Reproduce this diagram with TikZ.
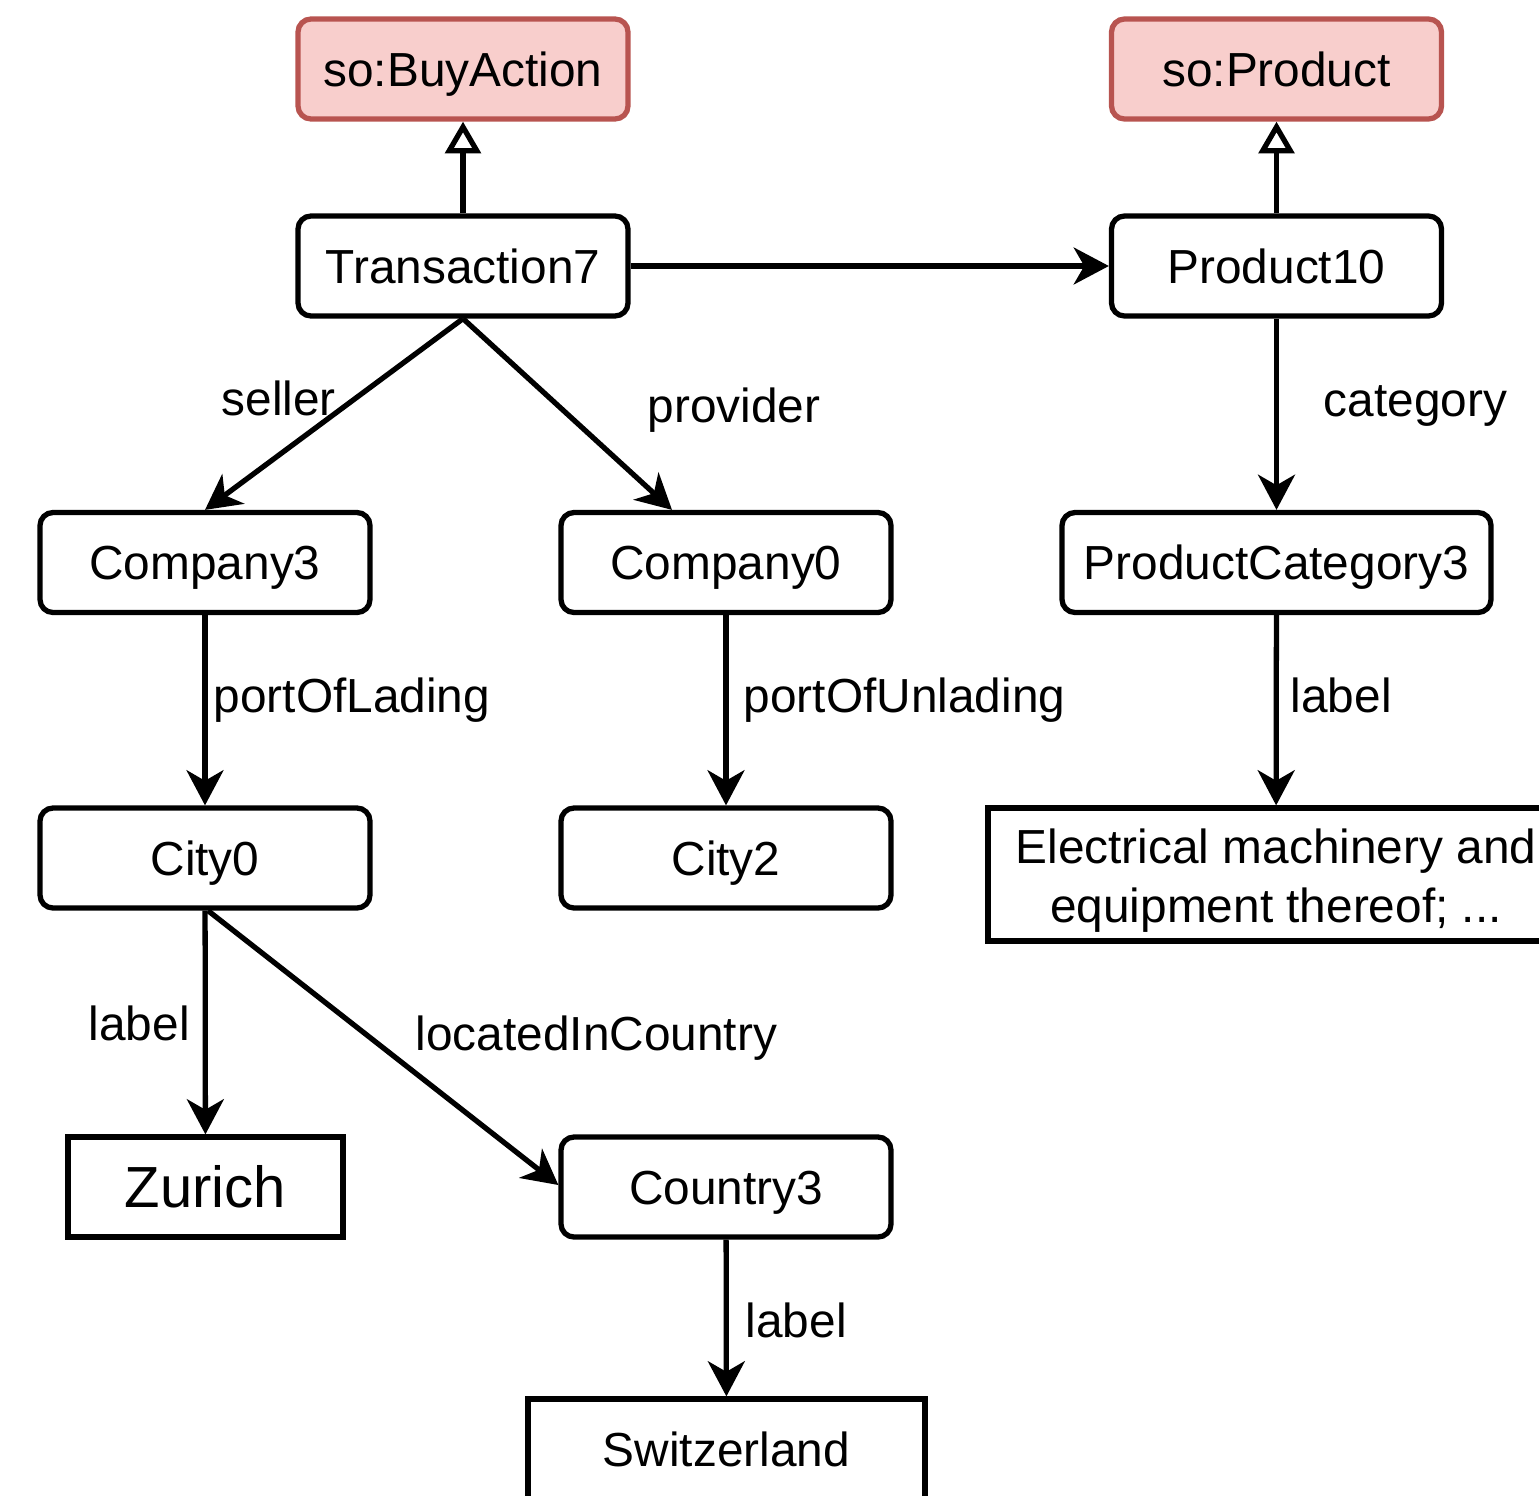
\documentclass[tikz,border=0pt]{standalone}
\usepackage{fontspec}
\setmainfont{Liberation Sans}
\usetikzlibrary{arrows.meta}
\definecolor{clsfill}{HTML}{F8CECC}
\definecolor{clsline}{HTML}{B85450}
\newcommand\nodefont{\fontsize{13.6}{17}\selectfont}
\newcommand\bigfont{\fontsize{16.5}{20}\selectfont}
\tikzset{
  frame/.style={draw, line width=1.5pt, minimum width=3.3cm,
    minimum height=1cm, inner sep=0pt, fill=white},
  box/.style={frame, font=\nodefont, text height=9.75pt, text depth=0pt},
  inst/.style={box, rounded corners=0.13cm},
  cls/.style={box, rounded corners=0.13cm, draw=clsline, fill=clsfill},
  lit/.style={box},
  arr/.style={line width=1.5pt, -{Stealth[length=10pt,width=10.5pt,inset=3pt]}},
  sub/.style={line width=1.5pt, -{Triangle[open,length=9pt,width=10pt,fill=white]}},
  lbl/.style={font=\nodefont, inner sep=0pt, anchor=base west}
}
\begin{document}
\begin{tikzpicture}
\useasboundingbox (0,0) rectangle (15.39,-14.95);
\clip (0,0) rectangle (15.39,-14.95);

% classes
\node[cls] (buy) at (4.63,-0.69) {so:BuyAction};
\node[cls] (prod) at (12.765,-0.69) {so:Product};

% instances
\node[inst] (t7) at (4.63,-2.66) {Transaction7};
\node[inst] (p10) at (12.765,-2.66) {Product10};
\node[inst] (c3) at (2.05,-5.625) {Company3};
\node[inst] (c0) at (7.26,-5.625) {Company0};
\node[inst, minimum width=4.29cm] (pc3) at (12.765,-5.625) {ProductCategory3};
\node[inst] (city0) at (2.05,-8.58) {City0};
\node[inst] (city2) at (7.26,-8.58) {City2};
\node[inst] (ctry) at (7.26,-11.87) {Country3};

% literals
\node[frame, minimum width=5.76cm, minimum height=1.33cm] (elec) at (12.76,-8.745) {};
\node[font=\nodefont, align=center, inner sep=0pt] (electext) at ([yshift=-0.06cm]elec.center)
  {Electrical machinery and\\equipment thereof; ...};
\node[lit, minimum width=2.75cm, font=\bigfont, text height=11.8pt] (zur) at (2.055,-11.87) {Zurich};
\node[lit, minimum width=3.97cm] (swi) at (7.265,-14.49) {Switzerland};

% type links
\draw[sub] (t7) -- (buy);
\draw[sub] (p10) -- (prod);

% property links
\draw[arr] (t7) -- (p10);
\draw[arr] (t7.south) -- (c3.north);
\draw[arr] (t7.south) -- ([xshift=-0.54cm]c0.north);
\draw[arr] (p10) -- (pc3);
\draw[arr] (c3) -- (city0);
\draw[arr] (c0) -- (city2);
\draw[arr] (pc3) -- (elec);
\draw[arr] (city0) -- (zur);
\draw[arr] ([xshift=0.03cm]city0.south) -- ([yshift=0.02cm]ctry.west);
\draw[arr] (ctry) -- (swi);

% edge labels
\node[lbl] (lseller) at (2.21,-4.15) {seller};
\node[lbl] (lprov) at (6.47,-4.22) {provider};
\node[lbl] (lcat) at (13.23,-4.16) {category};
\node[lbl] (llading) at (2.13,-7.12) {portOfLading};
\node[lbl] (lunlading) at (7.43,-7.12) {portOfUnlading};
\node[lbl] (llabpc) at (12.90,-7.12) {label};
\node[lbl] (llabcity) at (0.88,-10.40) {label};
\node[lbl] (lloc) at (4.15,-10.50) {locatedInCountry};
\node[lbl] (llabctry) at (7.45,-13.37) {label};
\end{tikzpicture}
\end{document}
